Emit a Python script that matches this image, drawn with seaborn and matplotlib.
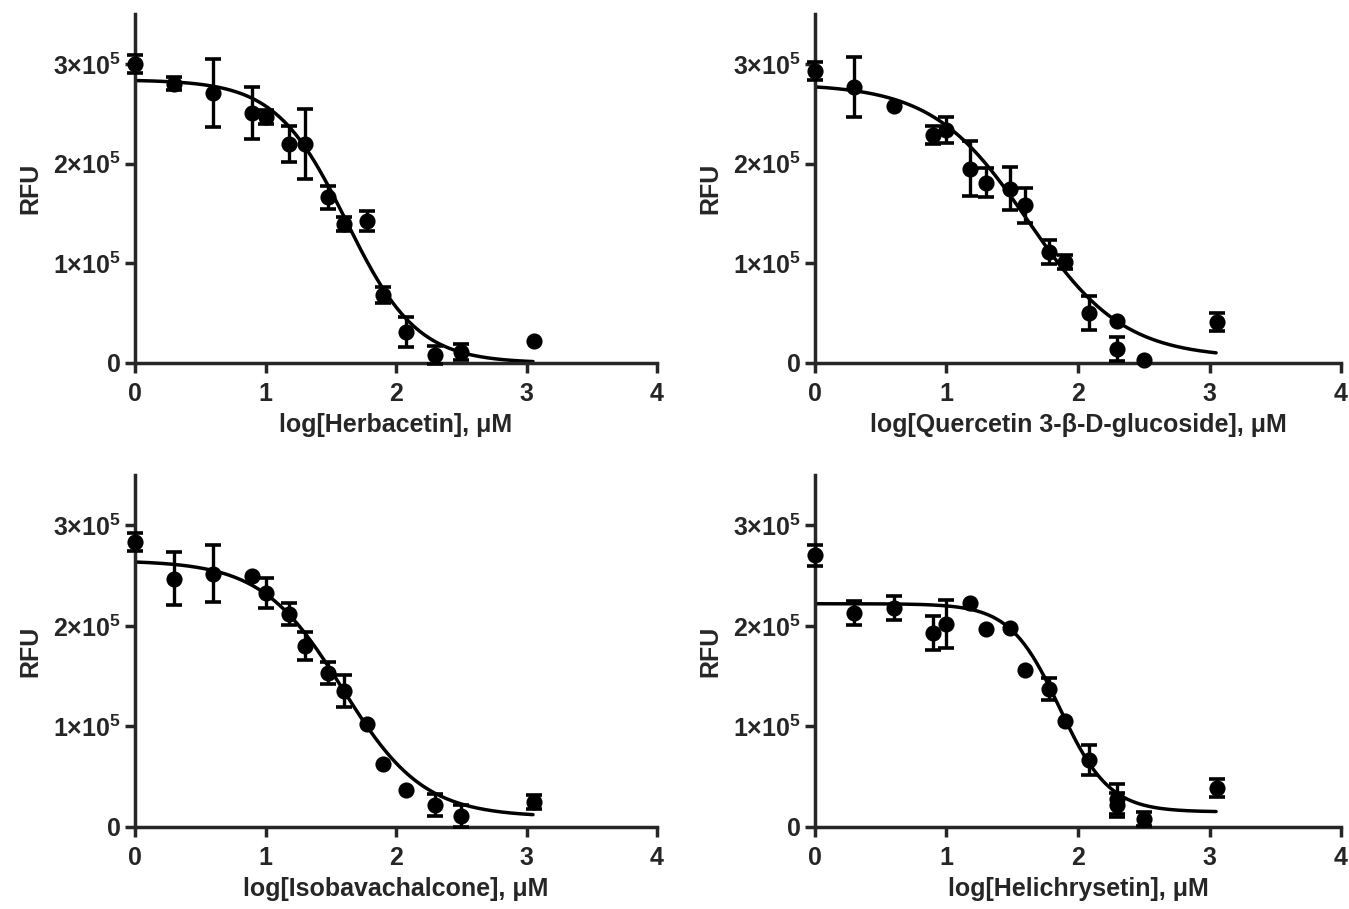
import numpy as np
import pandas as pd
import seaborn as sns
import matplotlib.pyplot as plt
from matplotlib.ticker import FixedLocator, FuncFormatter

sns.set_style('ticks')
plt.rcParams['font.family'] = ['Liberation Sans', 'DejaVu Sans']
plt.rcParams['font.weight'] = 'bold'
plt.rcParams['mathtext.fontset'] = 'custom'
plt.rcParams['mathtext.rm'] = 'Liberation Sans'
plt.rcParams['mathtext.bf'] = 'Liberation Sans:bold'

# log concentration (µM) for each panel
x_herb = [0, 0.30, 0.60, 0.90, 1.00, 1.18, 1.30, 1.48, 1.60, 1.78, 1.90, 2.08, 2.30, 2.50, 3.06]
x_quer = [0, 0.30, 0.60, 0.90, 1.00, 1.18, 1.30, 1.48, 1.60, 1.78, 1.90, 2.08, 2.30, 2.30, 2.50, 3.06]
x_isob = [0, 0.30, 0.60, 0.90, 1.00, 1.18, 1.30, 1.48, 1.60, 1.78, 1.90, 2.08, 2.30, 2.50, 3.06]
x_heli = [0, 0.30, 0.60, 0.90, 1.00, 1.18, 1.30, 1.48, 1.60, 1.78, 1.90, 2.08, 2.30, 2.30, 2.50, 3.06]

# RFU means (x1e5) and SD (x1e5, 0 = no visible bar)
y_herb = [3.00, 2.80, 2.71, 2.51, 2.47, 2.20, 2.20, 1.66, 1.39, 1.42, 0.68, 0.31, 0.08, 0.11, 0.22]
e_herb = [0.09, 0.065, 0.34, 0.26, 0.07, 0.18, 0.35, 0.12, 0.07, 0.10, 0.08, 0.15, 0.09, 0.08, 0]
y_quer = [2.93, 2.77, 2.58, 2.29, 2.34, 1.95, 1.81, 1.75, 1.58, 1.11, 1.01, 0.50, 0.42, 0.14, 0.03, 0.41]
e_quer = [0.09, 0.30, 0, 0.09, 0.13, 0.28, 0.15, 0.22, 0.18, 0.12, 0.07, 0.17, 0, 0.12, 0, 0.09]
y_isob = [2.83, 2.47, 2.52, 2.50, 2.33, 2.12, 1.80, 1.53, 1.35, 1.02, 0.63, 0.37, 0.22, 0.11, 0.25]
e_isob = [0.09, 0.26, 0.28, 0, 0.15, 0.11, 0.14, 0.11, 0.16, 0, 0, 0, 0.11, 0.11, 0.07]
y_heli = [2.70, 2.13, 2.18, 1.93, 2.02, 2.23, 1.97, 1.98, 1.56, 1.37, 1.05, 0.67, 0.28, 0.22, 0.08, 0.39]
e_heli = [0.10, 0.12, 0.12, 0.17, 0.24, 0, 0, 0, 0, 0.11, 0, 0.15, 0.15, 0.12, 0.07, 0.09]

# four-parameter fit: top, bottom (x1e5), logIC50, hill slope
fit_herb = [2.84, 0.0, 1.62, 1.6]
fit_quer = [2.80, 0.05, 1.62, 1.2]
fit_isob = [2.65, 0.10, 1.59, 1.4]
fit_heli = [2.22, 0.15, 1.86, 2.3]

names = ['Herbacetin', 'Quercetin 3-β-D-glucoside', 'Isobavachalcone', 'Helichrysetin']
xs = [x_herb, x_quer, x_isob, x_heli]
ys = [y_herb, y_quer, y_isob, y_heli]
es = [e_herb, e_quer, e_isob, e_heli]
fits = [fit_herb, fit_quer, fit_isob, fit_heli]

W, H = 1349, 909
fig = plt.figure(figsize=(W / 100, H / 100), dpi=100)
boxes = [(135, 14, 657, 363), (815, 14, 1341, 363),
         (135, 475, 657, 827), (815, 475, 1341, 827)]


def sci(v, pos):
    if v == 0:
        return '0'
    return r'$\mathbf{%d}{\times}\mathbf{10^{5}}$' % round(v / 1e5)


for name, x, y, e, fit, (l, t, r, b) in zip(names, xs, ys, es, fits, boxes):
    ax = fig.add_axes([l / W, 1 - b / H, (r - l) / W, (b - t) / H])
    df = pd.DataFrame({'x': x, 'y': np.array(y) * 1e5, 'e': np.array(e) * 1e5})

    top, bot, ic, hill = fit
    xc = np.linspace(0, 3.05, 200)
    yc = (bot + (top - bot) / (1 + 10 ** ((xc - ic) * hill))) * 1e5
    sns.lineplot(x=xc, y=yc, color='black', lw=2.5, ax=ax, zorder=2)

    eb = df[df['e'] > 0]
    ax.errorbar(eb['x'], eb['y'], yerr=eb['e'], fmt='none', ecolor='black',
                elinewidth=2.4, capsize=6, capthick=2.6, clip_on=False, zorder=3)
    sns.scatterplot(data=df, x='x', y='y', color='black', s=135, edgecolor='black',
                    linewidth=0, ax=ax, zorder=4, clip_on=False)

    ax.set_xlim(0, 4)
    ax.set_ylim(0, 3.5e5)
    ax.xaxis.set_major_locator(FixedLocator([0, 1, 2, 3, 4]))
    ax.yaxis.set_major_locator(FixedLocator([0, 1e5, 2e5, 3e5]))
    ax.yaxis.set_major_formatter(FuncFormatter(sci))
    ax.set_xticklabels(['0', '1', '2', '3', '4'])
    sns.despine(ax=ax)
    for s in ['left', 'bottom']:
        ax.spines[s].set_linewidth(2.5)
    ax.tick_params(width=2.5, length=7, labelsize=18, pad=3)
    ax.tick_params(axis='x', pad=7)
    ax.set_xlabel(f'log[{name}], μM', fontsize=18, fontweight='bold', labelpad=5)
    ax.set_ylabel('RFU', fontsize=18, fontweight='bold', labelpad=8)

fig.savefig('out.png', dpi=100)
